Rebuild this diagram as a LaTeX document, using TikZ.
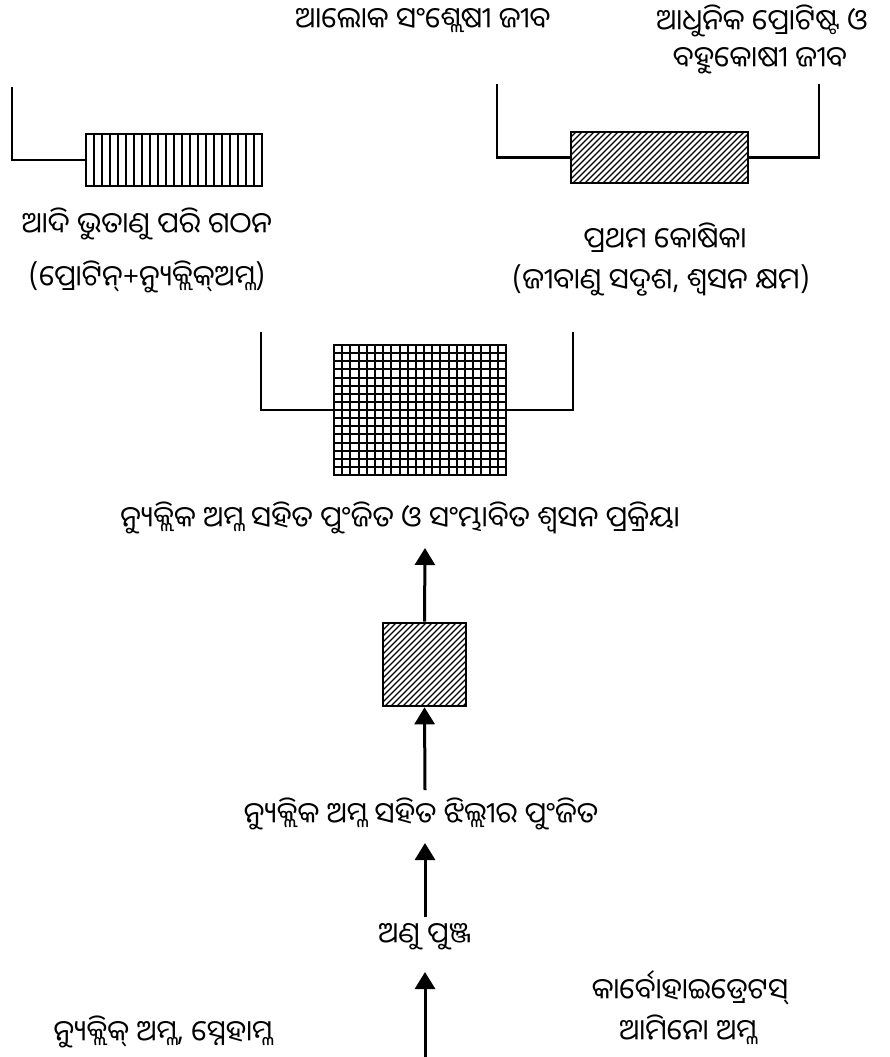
\documentclass[tikz,border=0pt]{standalone}
\usepackage{fontspec}
\newfontfamily\oriya[Script=Oriya]{Noto Sans Oriya UI}
\usetikzlibrary{arrows.meta,calc}
\begin{document}
\begin{tikzpicture}[x=1pt,y=-1pt,
  lbl/.style={font=\oriya\fontsize{29}{34}\selectfont, inner sep=0pt, anchor=center},
  conn/.style={line width=2.2pt},
  arr/.style={line width=3pt,-{Triangle[length=17pt,width=20pt]}},
  boxed/.style={draw,line width=2.6pt,rectangle,inner sep=0pt},
  vstripes/.style={path picture={
    \foreach \k in {1,...,21}
      \draw[line width=1.6pt] ($(path picture bounding box.north west)+(\k*8,-2)$) -- ++(0,70);}},
  hatch/.style={path picture={
    \foreach \k in {-30,...,40}
      \draw[line width=1.1pt] ($(path picture bounding box.south west)+(\k*6,2)$) -- ++(150,-150);}},
  gridfill/.style={path picture={
    \foreach \k in {1,...,20}
      \draw[line width=2pt] ($(path picture bounding box.north west)+(\k*8.19,-2)$) -- ++(0,140);
    \foreach \k in {1,...,15}
      \draw[line width=2pt] ($(path picture bounding box.north west)+(-2,\k*8.125)$) -- ++(180,0);}}]
\useasboundingbox (0,0) rectangle (889,1057);

% boxes
\node[boxed, minimum width=176pt, minimum height=52pt, vstripes] (vbox) at (174,160) {};
\node[boxed, minimum width=177pt, minimum height=51pt, hatch] (hbox) at (659.5,157.5) {};
\node[boxed, minimum width=172pt, minimum height=130pt, gridfill] (gbox) at (420,410) {};
\node[boxed, minimum width=83pt, minimum height=83pt, hatch] (sbox) at (424.5,664.5) {};

% texts
\node[lbl] (t1) at (423,21) {ଆଲୋକ ସଂଶ୍ଲେଷୀ ଜୀବ};
\node[lbl] (t2a) at (762,21) {ଆଧୁନିକ ପ୍ରୋଟିଷ୍ଟ ଓ};
\node[lbl] (t2b) at (760,61) {ବହୁକୋଷୀ ଜୀବ};
\node[lbl] (t3) at (147,224) {ଆଦି ଭୁତାଣୁ ପରି ଗଠନ};
\node[lbl] (t4) at (147,277) {(ପ୍ରୋଟିନ୍+ନ୍ୟୁକ୍ଲିକ୍ଅମ୍ଳ)};
\node[lbl] (t5a) at (665,238) {ପ୍ରଥମ କୋଷିକା};
\node[lbl] (t5b) at (661,280) {(ଜୀବାଣୁ ସଦୃଶ, ଶ୍ୱସନ କ୍ଷମ)};
\node[lbl] (t6) at (400,518) {ନ୍ୟୁକ୍ଲିକ ଅମ୍ଳ ସହିତ ପୁଂଜିତ ଓ ସଂମ୍ଭାବିତ ଶ୍ୱସନ ପ୍ରକ୍ରିୟା};
\node[lbl] (t7) at (421,814) {ନ୍ୟୁକ୍ଲିକ ଅମ୍ଳ ସହିତ ଝିଲ୍ଲୀର ପୁଂଜିତ};
\node[lbl] (t8) at (425,937) {ଅଣୁ ପୁଞ୍ଜ};
\node[lbl] (t9a) at (690,988) {କାର୍ବୋହାଇଡ୍ରେଟସ୍};
\node[lbl] (t9b) at (688,1030) {ଆମିନୋ ଅମ୍ଳ};
\node[lbl] (t10) at (163,1032) {ନ୍ୟୁକ୍ଲିକ୍ ଅମ୍ଳ, ସ୍ନେହାମ୍ଳ};

% connector ends
\coordinate (vl) at (12,87);
\coordinate (hl) at (497,84);
\coordinate (hr) at (819,84);
\coordinate (gl) at (261,332);
\coordinate (gr) at (573,332);
\coordinate (a1t) at (425,548);
\coordinate (a2b) at (425,790);
\coordinate (a3t) at (425,843);
\coordinate (a3b) at (425,917);
\coordinate (a4t) at (425,972);
\coordinate (a4b) at (425,1057);

\draw[conn] (vbox.west) -| (vl);
\draw[conn] (hbox.west) -| (hl);
\draw[conn] (hbox.east) -| (hr);
\draw[conn] (gbox.west) -| (gl);
\draw[conn] (gbox.east) -| (gr);

\draw[arr] (sbox.north) -- (a1t);
\draw[arr] (a2b) -- (sbox.south);
\draw[arr] (a3b) -- (a3t);
\draw[arr] (a4b) -- (a4t);
\end{tikzpicture}
\end{document}
